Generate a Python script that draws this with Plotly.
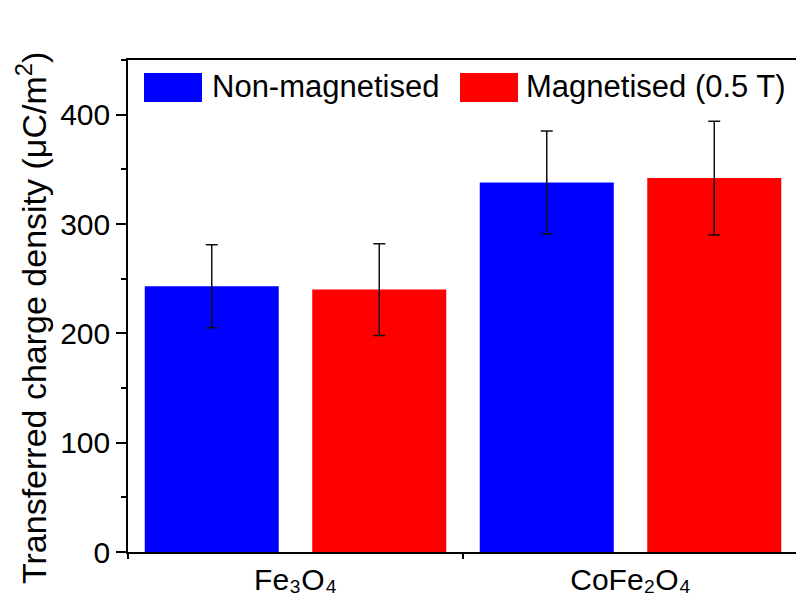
import plotly.graph_objects as go

categories = ["Fe₃O₄", "CoFe₂O₄"]
non_mag = [243, 338]
non_mag_err = [38, 47]
mag = [240, 342]
mag_err = [42, 52]
series_names = ["Non-magnetised", "Magnetised (0.5 T)"]
colors = ["#0000FF", "#FF0000"]

W, H = 796, 601
L, R, T, B = 128, 0, 60, 49
pw, ph = W - L - R, H - T - B

def px(x):
    return (x - L) / pw

def py(y):
    return (H - B - y) / ph

FONT = "Liberation Sans, Arial, Helvetica, sans-serif"

fig = go.Figure()
fig.add_trace(go.Bar(
    x=categories, y=non_mag, name=series_names[0],
    marker=dict(color=colors[0], line=dict(width=0)),
    width=0.4, offset=-0.45,
    error_y=dict(type="data", array=non_mag_err, color="#111111", thickness=1.5, width=6),
    showlegend=False,
))
fig.add_trace(go.Bar(
    x=categories, y=mag, name=series_names[1],
    marker=dict(color=colors[1], line=dict(width=0)),
    width=0.4, offset=0.05,
    error_y=dict(type="data", array=mag_err, color="#111111", thickness=1.5, width=6),
    showlegend=False,
))

# manual legend (large swatches)
legend_items = [(144, 202, 210), (460, 518, 524)]
for (x0, x1, tx), name, col in zip(legend_items, series_names, colors):
    fig.add_shape(type="rect", xref="paper", yref="paper",
                  x0=px(x0), x1=px(x1), y0=py(102), y1=py(73),
                  fillcolor=col, line=dict(width=0))
    fig.add_annotation(xref="paper", yref="paper", x=px(tx), y=py(86),
                       xanchor="left", yanchor="middle", showarrow=False,
                       text=name, font=dict(family=FONT, size=31, color="black"))

fig.add_annotation(xref="paper", yref="paper", x=px(31), y=py(318),
                   xanchor="center", yanchor="middle", showarrow=False,
                   textangle=-90,
                   text="Transferred charge density (μC/m<sup>2</sup>)",
                   font=dict(family=FONT, size=34, color="black"))

fig.update_layout(
    width=W, height=H,
    margin=dict(l=L, r=R, t=T, b=B, pad=0),
    paper_bgcolor="white", plot_bgcolor="white",
    barmode="overlay",
    font=dict(family=FONT, size=30, color="black"),
    showlegend=False,
)
fig.update_xaxes(
    type="category", range=[-0.5, 1.494],
    showline=True, linecolor="black", linewidth=1.5, mirror=True,
    ticks="outside", tickson="boundaries", ticklen=5, tickwidth=1.5, tickcolor="black",
    showgrid=False, zeroline=False,
    tickfont=dict(family=FONT, size=30, color="black"),
)
fig.update_yaxes(
    range=[0, 450], dtick=100, tick0=0,
    showline=True, linecolor="black", linewidth=1.5,
    ticks="outside", ticklen=10, tickwidth=1.5, tickcolor="black",
    minor=dict(dtick=50, ticks="outside", ticklen=5, tickwidth=1.5, tickcolor="black", showgrid=False),
    showgrid=False, zeroline=False,
    tickfont=dict(family=FONT, size=30, color="black"),
)

fig.write_html("out.html")
